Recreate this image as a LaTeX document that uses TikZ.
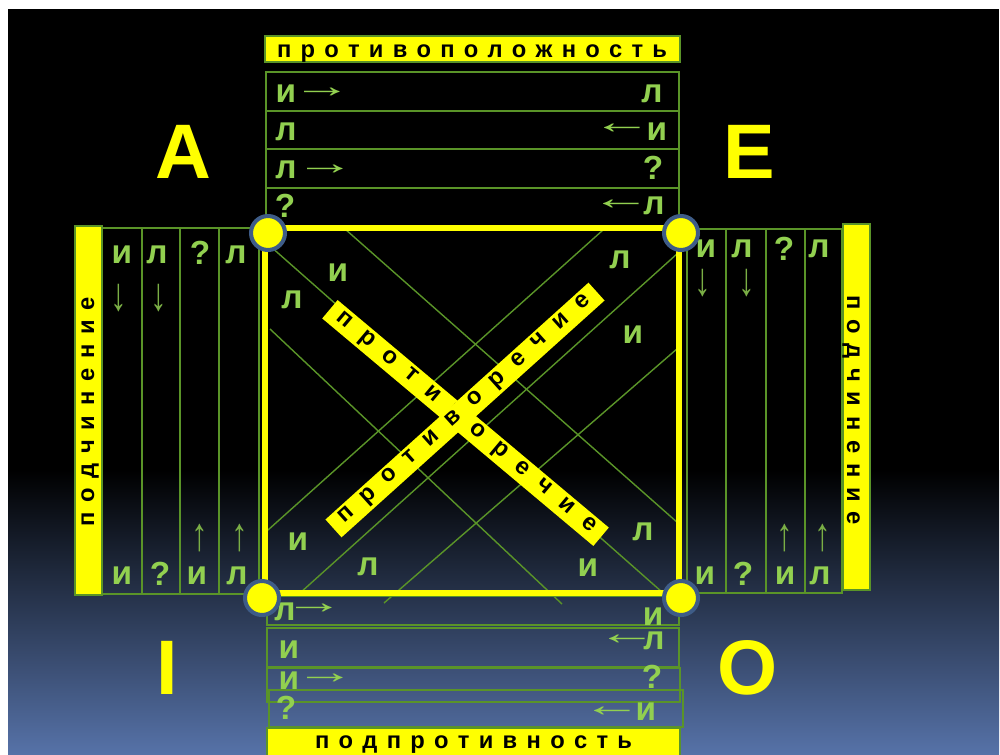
\documentclass[tikz,border=0pt]{standalone}
\usepackage{graphicx}
\usepackage{fontspec}
\setmainfont{Liberation Sans}
\definecolor{lgreen}{HTML}{92D050}
\definecolor{agreen}{HTML}{7AAE45}
\definecolor{lnk}{HTML}{5A9428}
\definecolor{ylw}{HTML}{FFFF00}
\definecolor{bgblue}{HTML}{5672A8}
\definecolor{dotring}{HTML}{3E5C87}
\newcommand{\spreadtxt}[2]{\makebox[#1][s]{#2}}
\newcommand{\harr}[1]{\scalebox{1.8}[1]{#1}}
\newcommand{\varr}[1]{\scalebox{1}[1.4]{#1}}
\begin{document}
\begin{tikzpicture}[x=0.02cm,y=-0.02cm,
  lt/.style={text=lgreen,font=\bfseries\fontsize{19}{20}\selectfont,inner sep=0pt},
  ar/.style={text=lgreen,font=\fontsize{19}{20}\selectfont,inner sep=0pt},
  ca/.style={text=agreen,font=\fontsize{19}{20}\selectfont,inner sep=0pt},
  big/.style={text=ylw,font=\bfseries\fontsize{44}{46}\selectfont,inner sep=0pt},
  cell/.style={draw=lnk,line width=1.1pt},
  thinln/.style={draw=lnk,line width=0.8pt},
  ybar/.style={fill=ylw,draw=lnk,line width=1pt},
  ttl/.style={text=black,font=\bfseries\fontsize{13.5}{14}\selectfont,inner sep=0pt},
  dbar/.style={fill=ylw,text=black,font=\bfseries\fontsize{13.5}{14}\selectfont,inner sep=0pt,minimum width=7.08cm,minimum height=0.48cm},
  dot/.style={circle,fill=ylw,draw=dotring,line width=2.3pt,minimum size=0.68cm,inner sep=0pt},
]
\useasboundingbox (0,0) rectangle (1000,754);
% background
\fill[white] (0,0) rectangle (1000,754);
\fill[black] (8,9) rectangle (999,472);
\shade[top color=black,bottom color=bgblue] (8,470) rectangle (999,754);

% thin diagonal lines
\draw[thinln] (270,246) -- (662,592);
\draw[thinln] (345,229) -- (678,523);
\draw[thinln] (270,329) -- (562,604);
\draw[thinln] (268,530) -- (603,230);
\draw[thinln] (300,593) -- (678,253);
\draw[thinln] (384,603) -- (678,348);

% top rows
\draw[cell] (266,72) rectangle (679,228);
\draw[cell] (266,111) -- (679,111);
\draw[cell] (266,149) -- (679,149);
\draw[cell] (266,188) -- (679,188);
% bottom rows
\draw[cell] (267,596) rectangle (679,625);
\draw[cell] (267,628) rectangle (679,667);
\draw[cell] (267,668) rectangle (680,702);
\draw[cell] (269,690) rectangle (683,727);
% left columns
\draw[cell] (102,228) rectangle (259,594);
\draw[cell] (142,228) -- (142,594);
\draw[cell] (180,228) -- (180,594);
\draw[cell] (219,228) -- (219,594);
% right columns
\draw[cell] (687,229) rectangle (842,593);
\draw[cell] (726,229) -- (726,593);
\draw[cell] (766,229) -- (766,593);
\draw[cell] (805,229) -- (805,593);

% title bars
\draw[ybar] (265,36) rectangle (680,62);
\node[ttl,anchor=base] (tTop) at (472,57) {\spreadtxt{7.8cm}{п р о т и в о п о л о ж н о с т ь}};
\draw[ybar] (267,728) rectangle (680,758);
\node[ttl,anchor=base] (tBot) at (473.5,748) {\spreadtxt{6.34cm}{п о д п р о т и в н о с т ь}};
\draw[ybar] (75,226) rectangle (102,595);
\node[ttl,rotate=90,anchor=base] (tL) at (94,412) {\spreadtxt{4.6cm}{п о д ч и н е н и е}};
\draw[ybar] (843,224) rectangle (870,590);
\node[ttl,rotate=-90,anchor=base] (tR) at (847,410) {\spreadtxt{4.6cm}{п о д ч и н е н и е}};

% main square
\draw[ylw,line width=3.4pt] (265,228) rectangle (679,593);

% diagonal bars
\node[dbar,rotate=-40] (barA) at (465.5,423) {\spreadtxt{6.64cm}{п р о т и в о р е ч и е}};
\node[dbar,rotate=42] (barB) at (465,410) {\spreadtxt{6.64cm}{п р о т и в о р е ч и е}};

% top row texts
\node[lt] (r1a) at (286,94) {и};
\node[ar] (r1b) at (322,93) {\harr{→}};
\node[lt] (r1c) at (652,94) {л};
\node[lt] (r2a) at (286,132) {л};
\node[ar] (r2b) at (622,129) {\harr{←}};
\node[lt] (r2c) at (657,132) {и};
\node[lt] (r3a) at (286,170) {л};
\node[ar] (r3b) at (325,170) {\harr{→}};
\node[lt] (r3c) at (653,168) {?};
\node[lt] (r4a) at (285,206) {?};
\node[ar] (r4b) at (621,205) {\harr{←}};
\node[lt] (r4c) at (654,206) {л};

% bottom row texts
\node[lt] (b1a) at (285,612) {л};
\node[ar] (b1b) at (314,609) {\harr{→}};
\node[lt] (b1c) at (653,617) {и};
\node[lt] (b2a) at (289,650) {и};
\node[ar] (b2b) at (627,640) {\harr{←}};
\node[lt] (b2c) at (654,641) {л};
\node[lt] (b3a) at (289,681) {и};
\node[ar] (b3b) at (325,679) {\harr{→}};
\node[lt] (b3c) at (652,677) {?};
\node[lt] (b4a) at (286,708) {?};
\node[ar] (b4b) at (612,712) {\harr{←}};
\node[lt] (b4c) at (646,712) {и};

% left column texts
\node[lt] (la1) at (122,255) {и};
\node[lt] (la2) at (157,255) {л};
\node[lt] (la3) at (200,253) {?};
\node[lt] (la4) at (236,255) {л};
\node[ca] (ld1) at (119,298) {\varr{↓}};
\node[ca] (ld2) at (159,298) {\varr{↓}};
\node[ca] (lu3) at (200,538) {\varr{↑}};
\node[ca] (lu4) at (240,538) {\varr{↑}};
\node[lt] (lb1) at (122,576) {и};
\node[lt] (lb2) at (160,574) {?};
\node[lt] (lb3) at (197,576) {и};
\node[lt] (lb4) at (237,576) {л};

% right column texts
\node[lt] (ra1) at (706,249) {и};
\node[lt] (ra2) at (742,249) {л};
\node[lt] (ra3) at (784,249) {?};
\node[lt] (ra4) at (819,249) {л};
\node[ca] (rd1) at (703,283) {\varr{↓}};
\node[ca] (rd2) at (747,283) {\varr{↓}};
\node[ca] (ru3) at (785,538) {\varr{↑}};
\node[ca] (ru4) at (823,538) {\varr{↑}};
\node[lt] (rb1) at (705,576) {и};
\node[lt] (rb2) at (743,574) {?};
\node[lt] (rb3) at (785,576) {и};
\node[lt] (rb4) at (820,576) {л};

% letters inside square
\node[lt] (s1) at (338,273) {и};
\node[lt] (s2) at (292,300) {л};
\node[lt] (s3) at (620,260) {л};
\node[lt] (s4) at (633,335) {и};
\node[lt] (s5) at (298,542) {и};
\node[lt] (s6) at (368,567) {л};
\node[lt] (s7) at (643,532) {л};
\node[lt] (s8) at (588,568) {и};

% corner letters
\node[big] (cA) at (183,152) {A};
\node[big] (cE) at (749,152) {E};
\node[big] (cI) at (167,668) {I};
\node[big] (cO) at (748,668) {O};

% corner dots
\node[dot] (dA) at (268,233) {};
\node[dot] (dE) at (681,233) {};
\node[dot] (dI) at (262,598) {};
\node[dot] (dO) at (681,598) {};
\end{tikzpicture}
\end{document}
